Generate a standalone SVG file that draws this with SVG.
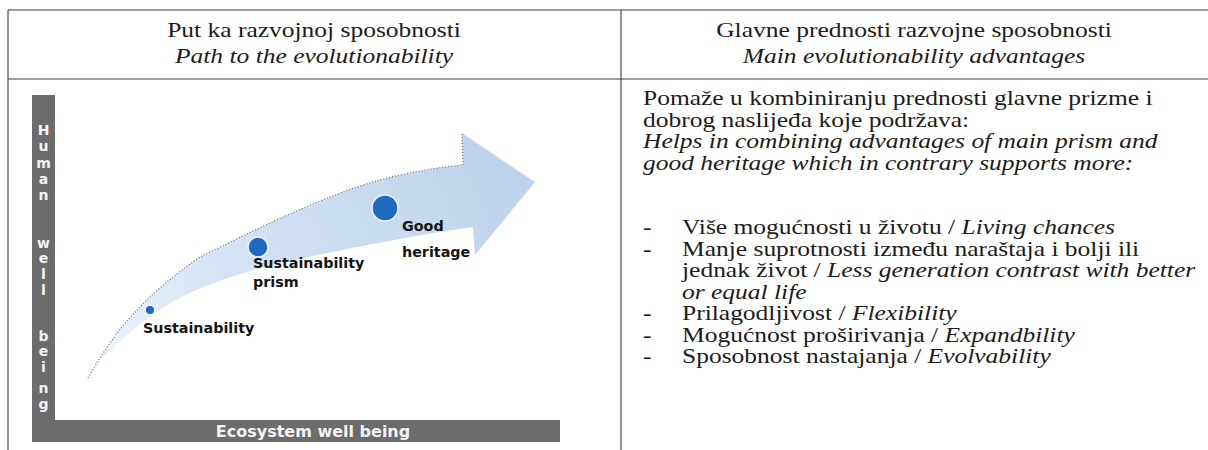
<svg xmlns="http://www.w3.org/2000/svg" width="1208" height="450" viewBox="0 0 1208 450">
<style>
.t{font-family:"Liberation Serif","Times New Roman",serif;font-size:21px;fill:#1c1c1c}
.i{font-style:italic}
.c{text-anchor:middle}
.lb{font-family:"DejaVu Sans",Verdana,sans-serif;font-weight:bold;font-size:14.3px;fill:#141414}
.ax{font-family:"DejaVu Sans",Verdana,sans-serif;font-weight:bold;font-size:14px;fill:#f4f4f4;text-anchor:middle}
.hl{stroke:#7d7d7d;stroke-width:1.5;fill:none}
.vl{stroke:#4a4a4a;stroke-width:1.2;fill:none}
.bar{fill:#6c6c6c}
.dot{fill:#1f69bf;stroke:#eaf2fb;stroke-width:1.5}
</style>
<defs>
<linearGradient id="band" gradientUnits="userSpaceOnUse" x1="90" y1="380" x2="530" y2="180">
<stop offset="0" stop-color="#f1f6fc"/>
<stop offset="0.35" stop-color="#d4e3f4"/>
<stop offset="1" stop-color="#bdd3ec"/>
</linearGradient>
</defs>
<rect width="1208" height="450" fill="#ffffff"/>
<g id="table-lines">
<line class="hl" x1="8" y1="10" x2="1208" y2="10"/>
<line class="hl" x1="8" y1="79" x2="1208" y2="79"/>
<line class="vl" x1="8" y1="10" x2="8" y2="450"/>
<line class="vl" x1="621" y1="10" x2="621" y2="450"/>
</g>
<g id="header-left">
<text class="t c" transform="translate(314,37) scale(1.214,1)">Put ka razvojnoj sposobnosti</text>
<text class="t c i" transform="translate(314,63) scale(1.214,1)">Path to the evolutionability</text>
</g>
<g id="header-right">
<text class="t c" transform="translate(914,37) scale(1.214,1)">Glavne prednosti razvojne sposobnosti</text>
<text class="t c i" transform="translate(914,63) scale(1.214,1)">Main evolutionability advantages</text>
</g>
<g id="chart">
<rect class="bar" x="32" y="95" width="23" height="347"/>
<rect class="bar" x="55" y="420" width="505" height="22"/>
<text class="ax" x="43.5" y="135">H</text>
<text class="ax" x="43.5" y="151">u</text>
<text class="ax" x="43.5" y="168">m</text>
<text class="ax" x="43.5" y="184">a</text>
<text class="ax" x="43.5" y="200">n</text>
<text class="ax" x="43.5" y="248">w</text>
<text class="ax" x="43.5" y="263">e</text>
<text class="ax" x="43.5" y="279">l</text>
<text class="ax" x="43.5" y="295">l</text>
<text class="ax" x="43.5" y="341">b</text>
<text class="ax" x="43.5" y="356">e</text>
<text class="ax" x="43.5" y="372">i</text>
<text class="ax" x="43.5" y="393">n</text>
<text class="ax" x="43.5" y="409">g</text>
<text class="ax" x="313" y="437" style="font-size:16px">Ecosystem well being</text>
</g>
<g id="connectors">
<path d="M88,378 C115,330 145,295 200,257 C250,232 330,193 380,180 C410,172 440,167 463,165 L462,133 L535,182 L475,255 L473,227 C420,234 330,252 280,263 C230,275 185,292 160,310 C130,330 105,352 88,378 Z" fill="url(#band)"/>
<path d="M88,378 C115,330 145,295 200,257 C250,232 330,193 380,180 C410,172 440,167 463,165 L462,133" fill="none" stroke="#6a6a6a" stroke-width="1.2" stroke-dasharray="1 2"/>
</g>
<g id="node-sustainability">
<circle class="dot" cx="150" cy="310" r="4.8"/>
<text class="lb" x="143" y="333">Sustainability</text>
</g>
<g id="node-prism">
<circle class="dot" cx="258" cy="247" r="10"/>
<text class="lb" x="253" y="268">Sustainability</text>
<text class="lb" x="253" y="287">prism</text>
</g>
<g id="node-heritage">
<circle class="dot" cx="385" cy="208" r="13"/>
<text class="lb" x="402" y="231">Good</text>
<text class="lb" x="402" y="257">heritage</text>
</g>
<g id="body-right">
<text class="t" transform="translate(643,105) scale(1.214,1)">Pomaže u kombiniranju prednosti glavne prizme i</text>
<text class="t" transform="translate(643,126.5) scale(1.214,1)">dobrog naslijeđa koje podržava:</text>
<text class="t i" transform="translate(643,148) scale(1.214,1)">Helps in combining advantages of main prism and</text>
<text class="t i" transform="translate(643,169.5) scale(1.214,1)">good heritage which in contrary supports more:</text>
<text class="t" transform="translate(643,234) scale(1.214,1)">-</text>
<text class="t" transform="translate(682,234) scale(1.214,1)">Više mogućnosti u životu / <tspan class="i">Living chances</tspan></text>
<text class="t" transform="translate(643,255.5) scale(1.214,1)">-</text>
<text class="t" transform="translate(682,255.5) scale(1.214,1)">Manje suprotnosti između naraštaja i bolji ili</text>
<text class="t" transform="translate(682,277) scale(1.214,1)">jednak život / <tspan class="i">Less generation contrast with better</tspan></text>
<text class="t i" transform="translate(682,298.5) scale(1.214,1)">or equal life</text>
<text class="t" transform="translate(643,320) scale(1.214,1)">-</text>
<text class="t" transform="translate(682,320) scale(1.214,1)">Prilagodljivost / <tspan class="i">Flexibility</tspan></text>
<text class="t" transform="translate(643,341.5) scale(1.214,1)">-</text>
<text class="t" transform="translate(682,341.5) scale(1.214,1)">Mogućnost proširivanja / <tspan class="i">Expandbility</tspan></text>
<text class="t" transform="translate(643,363) scale(1.214,1)">-</text>
<text class="t" transform="translate(682,363) scale(1.214,1)">Sposobnost nastajanja / <tspan class="i">Evolvability</tspan></text>
</g>
</svg>
